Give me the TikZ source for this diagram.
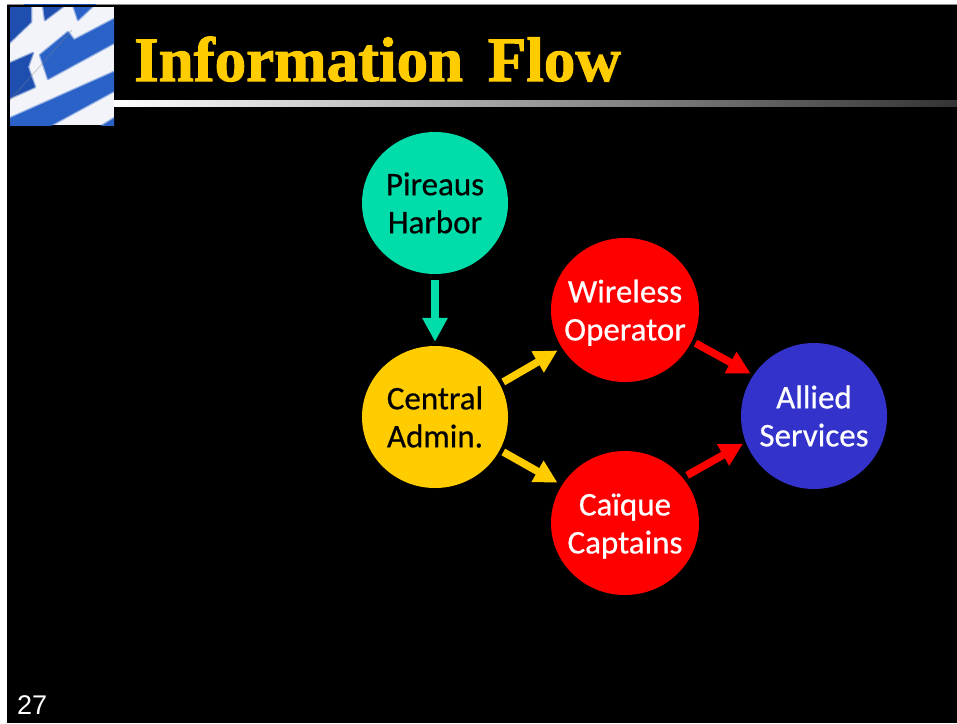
\documentclass[tikz,border=0pt]{standalone}
\usepackage{fontspec}
\setmainfont{Carlito}[FakeBold=0.4]
\newfontfamily\labelfont{Carlito}
\newfontfamily\titlefont{Liberation Serif}
\newfontfamily\numfont{Liberation Sans}
\usetikzlibrary{shapes.geometric,arrows.meta}
\definecolor{harbor}{HTML}{00DDAA}
\definecolor{admin}{HTML}{FFCC00}
\definecolor{relay}{HTML}{FF0000}
\definecolor{allied}{HTML}{3333CC}
\definecolor{flagblue}{HTML}{2A62C8}
\definecolor{flagdark}{HTML}{1E4FB0}
\definecolor{flagwhite}{HTML}{F2F4FA}
\tikzset{
  circ/.style={ellipse,inner sep=-30pt,minimum width=146pt,minimum height=142pt,align=center,
    font=\labelfont\addfontfeature{FakeBold=0.5}\fontsize{33}{38}\selectfont},
  darktext/.style={text=black},
  lighttext/.style={text=white},
  flow/.style={line width=7.5pt,-{Triangle[length=23pt,width=23pt]}},
  flagsoft/.style={fill=#1,draw=#1,draw opacity=.45,line width=2.5pt,line join=round},
}
\begin{document}
\begin{tikzpicture}[x=1pt,y=-1pt]
\useasboundingbox (0,0) rectangle (957,723);
\fill[white] (0,0) rectangle (957,723);
\fill[black!45] (7,4) rectangle (957,5);
\fill[black] (7,5) rectangle (957,723);
% flag
\fill[flagdark] (24,4) rectangle (96,5);
\begin{scope}
\clip (10,7) rectangle (114,125);
\fill[flagwhite] (10,7) rectangle (114,125);
\fill[flagsoft=flagdark] (8,5) -- (31,5) -- (31,22) -- (8,44) -- cycle;
\fill[flagsoft=flagdark] (43,5) -- (65,5) -- (45,20) -- cycle;
\draw[flagsoft=flagblue] (73,5) -- (94,5) -- (78,20) -- cycle;
\draw[flagsoft=flagblue] (40,55) -- (68,32) -- (74,40) -- (116,18) -- (116,42) -- (48,79) -- cycle;
\draw[flagsoft=flagdark] (8,64) -- (33,53) -- (28,67) -- (35,87) -- (8,99) -- cycle;
\draw[flagsoft=flagblue] (8,119) -- (116,71) -- (116,90) -- (48,127) -- (8,127) -- cycle;
\draw[flagsoft=flagblue] (100,127) -- (116,117) -- (116,127) -- cycle;
\draw[black!50,line width=.6pt,opacity=.5] (10,100) -- (72,30);
\end{scope}
% title rule
\shade[left color=white,right color=black!80] (114,100) rectangle (957,106);
\node[anchor=base west,inner sep=0pt,text=admin,font=\titlefont\bfseries\addfontfeature{FakeBold=1.6}\fontsize{63}{63}\selectfont] (title) at (134,81) {Information\hspace{9pt} Flow};
% nodes
\node[circ,fill=harbor,darktext] (pireaus) at (435,203) {Pireaus\\Harbor};
\node[circ,fill=admin,darktext] (central) at (435,417) {Central\\Admin.};
\node[circ,fill=relay,lighttext,minimum width=148pt,minimum height=144pt,text depth=0pt] (wireless) at (625,310) {Wireless\\Operator};
\node[circ,fill=relay,lighttext,minimum width=148pt,minimum height=144pt,text depth=0pt] (caique) at (625,523) {\raisebox{-1pt}{Caïque}\\\raisebox{-1pt}{Captains}};
\node[circ,fill=allied,lighttext,minimum height=146pt] (alliedsvc) at (814,416) {Allied\\Services};
% connectors
\draw[flow,harbor,line width=8pt,-{Triangle[length=24pt,width=24pt]},shorten <=6pt,shorten >=4pt] (pireaus) -- (central);
\draw[flow,admin,shorten <=4pt,shorten >=5pt] (central.27) -- (wireless.211.5);
\draw[flow,admin,shorten <=4pt,shorten >=5pt] (central.-27) -- (caique.149);
\draw[flow,relay,shorten <=4pt,shorten >=3pt] (wireless.-25) -- (alliedsvc.146);
\draw[flow,relay,shorten <=5pt,shorten >=3pt] (caique.38) -- (alliedsvc.201.5);
\node[anchor=base west,inner sep=0pt,text=white,font=\numfont\fontsize{27}{27}\selectfont] (pagenum) at (17,714) {27};
\end{tikzpicture}
\end{document}
